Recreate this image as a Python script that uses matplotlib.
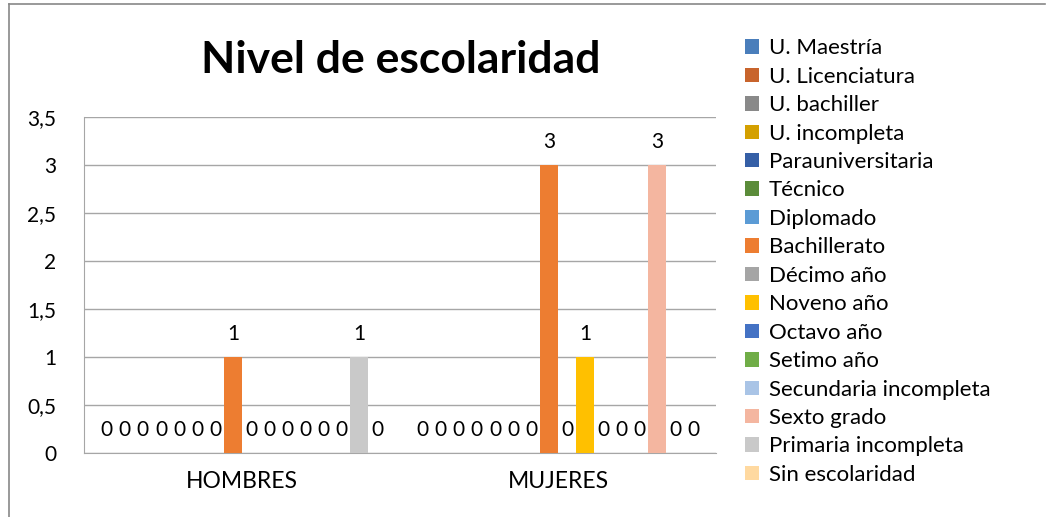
import numpy as np
import matplotlib.pyplot as plt
from matplotlib.lines import Line2D

plt.rcParams['font.family'] = ['Lato', 'DejaVu Sans']

# Data
categories = ['HOMBRES', 'MUJERES']
series = ['U. Maestría', 'U. Licenciatura', 'U. bachiller', 'U. incompleta',
          'Parauniversitaria', 'Técnico', 'Diplomado', 'Bachillerato',
          'Décimo año', 'Noveno año', 'Octavo año', 'Setimo año',
          'Secundaria incompleta', 'Sexto grado', 'Primaria incompleta',
          'Sin escolaridad']
hombres = [0, 0, 0, 0, 0, 0, 0, 1, 0, 0, 0, 0, 0, 0, 1, 0]
mujeres = [0, 0, 0, 0, 0, 0, 0, 3, 0, 1, 0, 0, 0, 3, 0, 0]
colors = ['#4A7EBB', '#C8642C', '#898989', '#D4A000', '#355FA6', '#5B8C3A',
          '#5B9BD5', '#ED7D31', '#A5A5A5', '#FFC000', '#4472C4', '#70AD47',
          '#A9C4E6', '#F4B6A0', '#C9C9C9', '#FFD9A0']
yticks = [0, 0.5, 1, 1.5, 2, 2.5, 3, 3.5]
ytick_labels = ['0', '0,5', '1', '1,5', '2', '2,5', '3', '3,5']

fig = plt.figure(figsize=(10.46, 5.17), dpi=100)
ax = fig.add_axes([0.0803, 0.1238, 0.6042, 0.6499])

x = np.arange(len(categories))
n = len(series)
width = 0.057
for i, name in enumerate(series):
    vals = [hombres[i], mujeres[i]]
    bars = ax.bar(x + (i - (n - 1) / 2) * width, vals, width,
                  color=colors[i], label=name, zorder=3)
    ax.bar_label(bars, labels=[str(v) for v in vals], padding=9,
                 fontsize=15, color='#000000')

ax.set_xlim(-0.5, 1.5)
ax.set_ylim(0, 3.5)
ax.set_yticks(yticks)
ax.set_yticklabels(ytick_labels, fontsize=15)
ax.set_xticks(x)
ax.set_xticklabels(categories, fontsize=16.5)
ax.tick_params(axis='both', length=0)
ax.tick_params(axis='y', pad=20)
ax.tick_params(axis='x', pad=13)
ax.grid(axis='y', color='#A6A6A6', linewidth=1, zorder=0)
for s in ['top', 'right']:
    ax.spines[s].set_visible(False)
for s in ['left', 'bottom']:
    ax.spines[s].set_color('#A6A6A6')

fig.text(0.383, 0.884, 'Nivel de escolaridad', fontsize=32, fontweight='bold',
         ha='center', va='center')

fig.legend(loc='upper left', bbox_to_anchor=(0.7125, 0.926), frameon=False,
           fontsize=16, handlelength=0.62, handleheight=0.62, handletextpad=0.45,
           labelspacing=0.38, borderpad=0, borderaxespad=0)

# outer frame (left and top edges visible)
fig.add_artist(Line2D([8.5 / 1046, 8.5 / 1046], [0, 1 - 4 / 517],
                      transform=fig.transFigure, color='#888888', lw=1.2))
fig.add_artist(Line2D([8.5 / 1046, 1045 / 1046], [1 - 4 / 517, 1 - 4 / 517],
                      transform=fig.transFigure, color='#888888', lw=1.2))

fig.savefig('out.png', dpi=100)
